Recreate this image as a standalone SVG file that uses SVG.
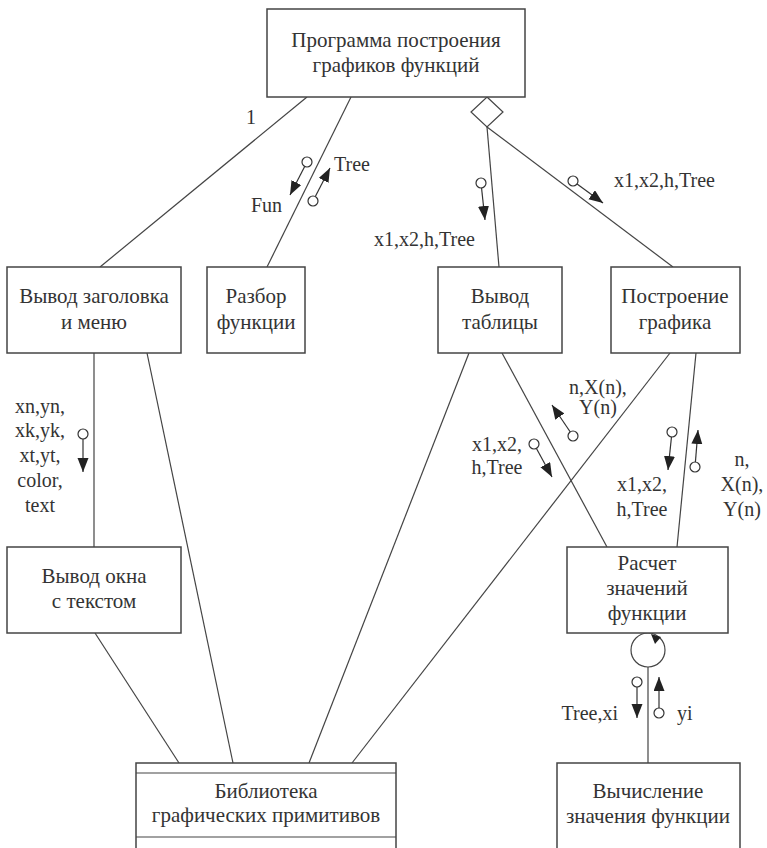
<svg xmlns="http://www.w3.org/2000/svg" width="767" height="848" viewBox="0 0 767 848">
<style>
.box{fill:#fff;stroke:#444;stroke-width:1.5}
.ln{stroke:#444;stroke-width:1.2;fill:none}
.t{font-family:"Liberation Serif","Times New Roman",serif;font-size:21px;fill:#333;text-anchor:middle}
.l{font-family:"Liberation Serif","Times New Roman",serif;font-size:20px;fill:#333}
.a{stroke:#333;stroke-width:1.2;fill:none;marker-end:url(#ah)}
.c{fill:#fff;stroke:#333;stroke-width:1.2}
</style>
<defs>
<marker id="ah" markerUnits="userSpaceOnUse" markerWidth="14" markerHeight="12" refX="14" refY="5.5" orient="auto">
<path d="M0,0 L14,5.5 L0,11 z" fill="#222"/>
</marker>
</defs>
<rect width="767" height="848" fill="#fff"/>
<g id="connectors">
<line class="ln" x1="307" y1="97" x2="100" y2="267"/>
<line class="ln" x1="351" y1="97" x2="267" y2="267"/>
<line class="ln" x1="487" y1="127" x2="499" y2="267"/>
<line class="ln" x1="487" y1="127" x2="673" y2="267"/>
<path class="ln" d="M487,97 L503,112 L487,127 L471,112 z" fill="#fff"/>
<line class="ln" x1="94" y1="353" x2="94" y2="547"/>
<line class="ln" x1="147" y1="353" x2="233" y2="763"/>
<line class="ln" x1="95" y1="633" x2="179" y2="763"/>
<line class="ln" x1="469" y1="353" x2="309" y2="763"/>
<line class="ln" x1="670" y1="353" x2="352" y2="763"/>
<line class="ln" x1="502" y1="353" x2="607" y2="547"/>
<line class="ln" x1="696" y1="353" x2="677" y2="547"/>
<circle class="ln" cx="648" cy="650" r="17"/>
<path d="M651,634 L661,637 L655,644 z" fill="#222"/>
<line class="ln" x1="648" y1="667" x2="648" y2="763"/>
<text class="l" x="246" y="124">1</text>
<line class="a" x1="307" y1="162" x2="290" y2="195"/><circle class="c" cx="307" cy="162" r="5"/>
<line class="a" x1="313" y1="201" x2="330" y2="168"/><circle class="c" cx="313" cy="201" r="5"/>
<text class="l" x="282" y="212" text-anchor="end">Fun</text>
<text class="l" x="334" y="171">Tree</text>
<line class="a" x1="481" y1="183" x2="485" y2="220"/><circle class="c" cx="481" cy="183" r="5"/>
<text class="l" x="475" y="246" text-anchor="end">x1,x2,h,Tree</text>
<line class="a" x1="573" y1="181" x2="603" y2="203"/><circle class="c" cx="573" cy="181" r="5"/>
<text class="l" x="614" y="187">x1,x2,h,Tree</text>
<line class="a" x1="83" y1="434" x2="83" y2="472"/><circle class="c" cx="83" cy="434" r="5"/>
<g class="l" text-anchor="middle">
<text x="40" y="413">xn,yn,</text>
<text x="40" y="437">xk,yk,</text>
<text x="40" y="462">xt,yt,</text>
<text x="40" y="487">color,</text>
<text x="40" y="512">text</text>
</g>
<line class="a" x1="573" y1="436" x2="552" y2="405"/><circle class="c" cx="573" cy="436" r="5"/>
<text class="l" x="598" y="394" text-anchor="middle">n,X(n),</text>
<text class="l" x="598" y="414" text-anchor="middle">Y(n)</text>
<line class="a" x1="534" y1="444" x2="552" y2="477"/><circle class="c" cx="534" cy="444" r="5"/>
<text class="l" x="497" y="451" text-anchor="middle">x1,x2,</text>
<text class="l" x="497" y="474" text-anchor="middle">h,Tree</text>
<line class="a" x1="672" y1="432" x2="668" y2="470"/><circle class="c" cx="672" cy="432" r="5"/>
<line class="a" x1="695" y1="467" x2="698" y2="430"/><circle class="c" cx="695" cy="467" r="5"/>
<text class="l" x="642" y="491" text-anchor="middle">x1,x2,</text>
<text class="l" x="642" y="516" text-anchor="middle">h,Tree</text>
<text class="l" x="742" y="466" text-anchor="middle">n,</text>
<text class="l" x="742" y="491" text-anchor="middle">X(n),</text>
<text class="l" x="742" y="516" text-anchor="middle">Y(n)</text>
<line class="a" x1="637" y1="682" x2="637" y2="718"/><circle class="c" cx="637" cy="682" r="5"/>
<line class="a" x1="659" y1="713" x2="659" y2="677"/><circle class="c" cx="659" cy="713" r="5"/>
<text class="l" x="618" y="720" text-anchor="end">Tree,xi</text>
<text class="l" x="677" y="720">yi</text>
</g>
<g id="n_main"><rect class="box" x="267" y="9" width="258" height="88"/>
<text class="t" x="396" y="47">Программа построения</text><text class="t" x="396" y="72">графиков функций</text></g>
<g id="n_title"><rect class="box" x="7" y="267" width="174" height="86"/>
<text class="t" x="94" y="303">Вывод заголовка</text><text class="t" x="94" y="329">и меню</text></g>
<g id="n_parse"><rect class="box" x="207" y="267" width="98" height="86"/>
<text class="t" x="256" y="303">Разбор</text><text class="t" x="256" y="329">функции</text></g>
<g id="n_table"><rect class="box" x="438" y="267" width="124" height="86"/>
<text class="t" x="500" y="303">Вывод</text><text class="t" x="500" y="329">таблицы</text></g>
<g id="n_plot"><rect class="box" x="611" y="267" width="129" height="86"/>
<text class="t" x="675" y="303">Построение</text><text class="t" x="675" y="329">графика</text></g>
<g id="n_window"><rect class="box" x="7" y="547" width="174" height="86"/>
<text class="t" x="94" y="583">Вывод окна</text><text class="t" x="94" y="608">с текстом</text></g>
<g id="n_calc"><rect class="box" x="567" y="547" width="161" height="86"/>
<text class="t" x="647" y="570">Расчет</text><text class="t" x="647" y="595">значений</text><text class="t" x="647" y="620">функции</text></g>
<g id="n_lib"><rect class="box" x="136" y="763" width="260" height="95"/>
<line class="ln" x1="136" y1="773" x2="396" y2="773"/><line class="ln" x1="136" y1="837" x2="396" y2="837"/>
<text class="t" x="266" y="798">Библиотека</text><text class="t" x="266" y="822">графических примитивов</text></g>
<g id="n_eval"><rect class="box" x="557" y="763" width="183" height="95"/>
<text class="t" x="648" y="798">Вычисление</text><text class="t" x="648" y="823">значения функции</text></g>
</svg>
